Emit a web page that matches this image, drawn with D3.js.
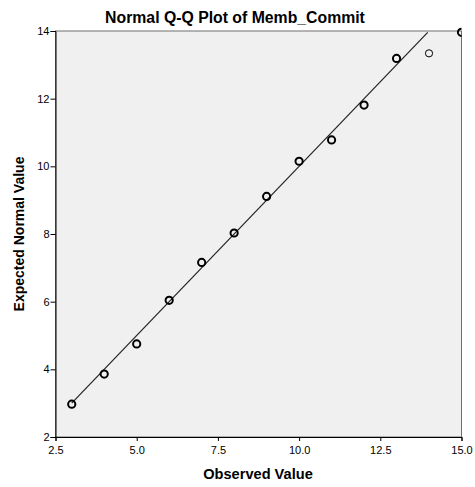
<!DOCTYPE html>
<html>
<head>
<meta charset="utf-8">
<script src="https://cdn.jsdelivr.net/npm/d3@7"></script>
<style>
  html, body { margin: 0; padding: 0; background: #fff; }
  svg { display: block; font-family: "Liberation Sans", Arial, sans-serif; }
</style>
</head>
<body>
<svg id="chart" width="475" height="487"></svg>
<script>
// Observed scores and their expected normal quantiles
const observed = [3, 4, 5, 6, 7, 8, 9, 10, 11, 12, 13, 14, 15];
const expected = [2.97, 3.86, 4.75, 6.04, 7.16, 8.03, 9.11, 10.15, 10.78, 11.81, 13.19, 13.34, 13.96];
// Number of cases sharing each observed value (single cases draw a thinner ring)
const cases = [3, 4, 3, 6, 5, 8, 7, 6, 5, 4, 3, 1, 2];

const xTicks = [2.5, 5.0, 7.5, 10.0, 12.5, 15.0];
const yTicks = [2, 4, 6, 8, 10, 12, 14];

const title = "Normal Q-Q Plot of Memb_Commit";
const xTitle = "Observed Value";
const yTitle = "Expected Normal Value";

const svg = d3.select("#chart");
const m = { left: 55.5, right: 461.5, top: 31, bottom: 437 };

const x = d3.scaleLinear().domain([2.5, 15]).range([m.left, m.right]);
const y = d3.scaleLinear().domain([2, 14]).range([m.bottom, m.top]);

// clip marks to the plotting frame
svg.append("defs").append("clipPath").attr("id", "plotClip")
  .append("rect")
  .attr("x", m.left).attr("y", m.top - 4)
  .attr("width", m.right - m.left).attr("height", m.bottom - m.top + 4);

// plot background
svg.append("rect")
  .attr("x", m.left).attr("y", m.top)
  .attr("width", m.right - m.left).attr("height", m.bottom - m.top)
  .attr("fill", "#f0f0f0")
  .attr("stroke", "#6e6e6e").attr("stroke-width", 1);

// axes
const xAxis = d3.axisBottom(x).tickValues(xTicks).tickFormat(d3.format(".1f")).tickSizeOuter(0).tickSize(4);
const yAxis = d3.axisLeft(y).tickValues(yTicks).tickFormat(d3.format("d")).tickSizeOuter(0).tickSize(5);

const gx = svg.append("g").attr("transform", `translate(0,${m.bottom})`).call(xAxis);
const gy = svg.append("g").attr("transform", `translate(${m.left},0)`).call(yAxis);

[gx, gy].forEach(g => {
  g.select(".domain").attr("stroke", "#000");
  g.selectAll(".tick line").attr("stroke", "#000");
  g.selectAll(".tick text").attr("fill", "#000").style("font-size", "11px")
    .style("font-family", "'Liberation Sans', Arial, sans-serif");
});
gx.selectAll(".tick text").attr("dy", "0.9em");
gy.selectAll(".tick text").attr("x", -6);

const marks = svg.append("g").attr("clip-path", "url(#plotClip)");

// reference line y = x across the observed range
const lineEnd = d3.max(expected);
marks.append("line")
  .attr("x1", x(observed[0])).attr("y1", y(observed[0]))
  .attr("x2", x(lineEnd)).attr("y2", y(lineEnd))
  .attr("stroke", "#222").attr("stroke-width", 1.2);

// points
marks.append("g").selectAll("circle")
  .data(observed.map((o, i) => ({ o, e: expected[i], n: cases[i] })))
  .join("circle")
  .attr("cx", d => x(d.o))
  .attr("cy", d => y(d.e))
  .attr("r", 3.6)
  .attr("fill", "none")
  .attr("stroke", "#000")
  .attr("stroke-width", d => d.n > 1 ? 2 : 1);

// titles
svg.append("text")
  .attr("x", 235).attr("y", 23)
  .attr("text-anchor", "middle")
  .style("font-size", "15.8px").style("font-weight", "bold")
  .text(title);

svg.append("text")
  .attr("x", 258).attr("y", 479)
  .attr("text-anchor", "middle")
  .style("font-size", "14.6px").style("font-weight", "bold")
  .text(xTitle);

svg.append("text")
  .attr("transform", `translate(24,${(m.top + m.bottom) / 2}) rotate(-90)`)
  .attr("text-anchor", "middle")
  .style("font-size", "14px").style("font-weight", "bold")
  .text(yTitle);
</script>
</body>
</html>
